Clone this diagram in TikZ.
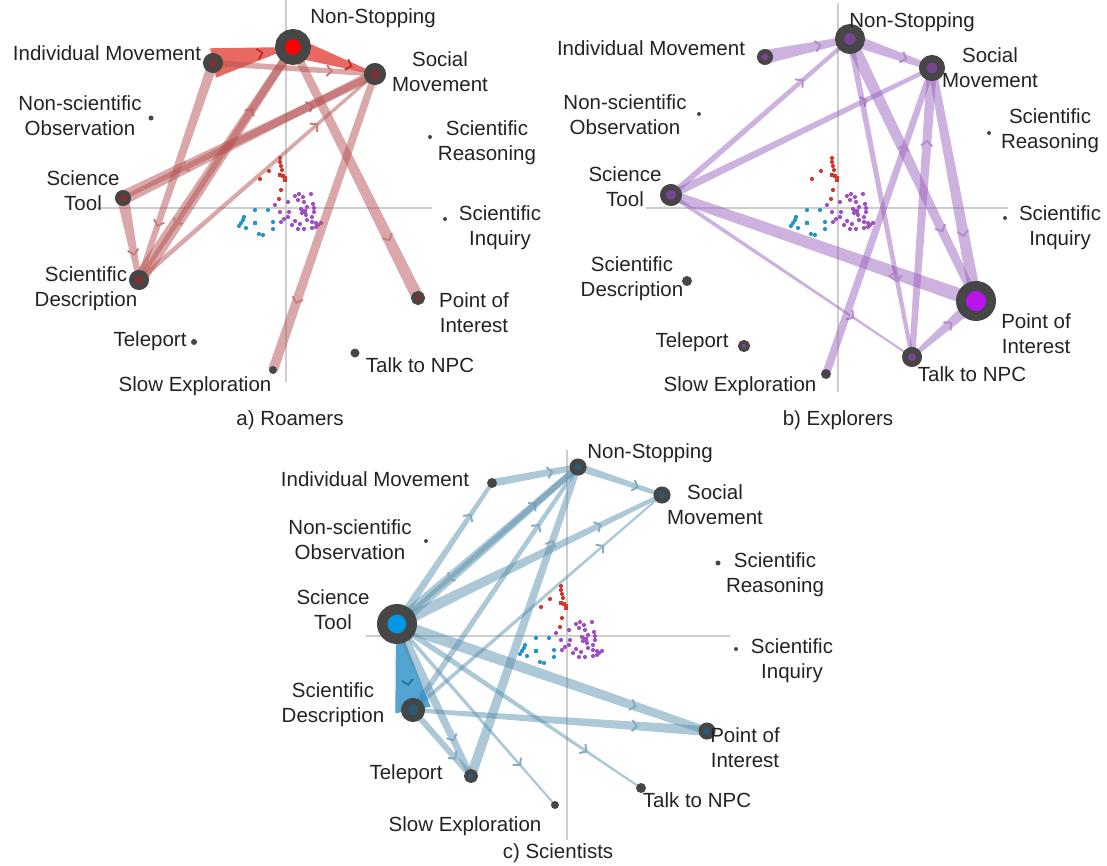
\documentclass[tikz,border=0pt]{standalone}
\usepackage{fontspec}
\setmainfont{Liberation Sans}
\usetikzlibrary{calc, arrows.meta, decorations.markings}
\definecolor{ringgray}{RGB}{70, 70, 70}
\definecolor{axisgray}{RGB}{205, 205, 205}
\definecolor{txt}{RGB}{35, 35, 35}
\definecolor{bandA}{RGB}{182, 82, 82}
\definecolor{bandB}{RGB}{155, 100, 191}
\definecolor{bandC}{RGB}{91, 145, 173}
\definecolor{hotA}{RGB}{225, 55, 45}
\definecolor{hotC}{RGB}{40, 140, 200}
\definecolor{innerA}{RGB}{125, 50, 50}
\definecolor{innerB}{RGB}{120, 70, 145}
\definecolor{innerC}{RGB}{45, 90, 115}
\definecolor{stopred}{RGB}{255, 0, 0}
\definecolor{poimag}{RGB}{185, 20, 240}
\definecolor{toolblue}{RGB}{0, 150, 225}
\definecolor{dotred}{RGB}{210, 55, 45}
\definecolor{dotblue}{RGB}{35, 150, 200}
\definecolor{dotpurple}{RGB}{160, 80, 195}
\pgfdeclarelayer{axes}
\pgfdeclarelayer{edges}
\pgfsetlayers{axes,edges,main}
\def\chevcol{black}
\tikzset{
  ring/.style n args={3}{circle, inner sep=0pt, draw=ringgray, fill=#3,
    line width={(#1-#2)/2}, minimum size={(#1+#2)/2}},
  dot/.style={circle, inner sep=0pt, fill=ringgray, minimum size=#1},
  lab/.style={align=center, text=txt, inner sep=0pt,
    font=\fontsize{20.5}{25}\selectfont},
  edgeA/.style={fill=bandA, fill opacity=0.5, /utils/exec=\def\chevcol{bandA!75!white}},
  edgeB/.style={fill=bandB, fill opacity=0.5, /utils/exec=\def\chevcol{bandB!75!white}},
  edgeC/.style={fill=bandC, fill opacity=0.5, /utils/exec=\def\chevcol{bandC!75!white}},
  wedgeA/.style={fill=hotA, fill opacity=0.75, /utils/exec=\def\chevcol{hotA!85!black}},
  wedgeC/.style={fill=hotC, fill opacity=0.8, /utils/exec=\def\chevcol{hotC!85!black}},
  axis/.style={draw=axisgray, line width=1.3pt}
}
% tapered band from node #2 (half width #4) to node #3 (half width #5)
\newcommand{\band}[5][edgeA]{
  \begin{pgfonlayer}{edges}
  \fill[#1] ($(#2)!#4!90:(#3)$) -- ($(#3)!#5!-90:(#2)$)
    -- ($(#3)!#5!90:(#2)$) -- ($(#2)!#4!-90:(#3)$) -- cycle;
  \path[#1, decorate, decoration={markings,
      mark=at position 0.78 with {\arrow[color=\chevcol]
        {Straight Barb[length=5pt, width=11pt, line width=2pt]}}}]
    (#2) -- (#3);
  \end{pgfonlayer}
}
% axes cross and the cloud of points round it
\newcommand{\cluster}[6]{
  \begin{pgfonlayer}{axes}
  \draw[axis] (#1, #3) -- (#1, #4);
  \draw[axis] (#5, #2) -- (#6, #2);
  \begin{scope}[shift={(#1, #2)}]
    \foreach \u/\v in {-6/-50, -6/-46, -5/-42, -4/-38, -17/-37, -26/-29, -5/-18, -7/-9}
      \fill[dotred] (\u, \v) circle (2.1);
    \foreach \u/\v in {-6/-33, -3/-32, -1/-30, -1/-28}
      \fill[dotred] (\u - 2.3, \v - 2.3) rectangle +(4.6, 4.6);
    \foreach \u/\v in {-31/2, -18/2, -42/9, -43/12, -45/15, -47/18, -40/20, -13/14,
                       -13/21, -27/26, -23/27}
      \fill[dotblue] (\u, \v) circle (2.1);
    \fill[dotblue] (-33.3, 12.7) rectangle +(4.6, 4.6);
    \foreach \u/\v in {-11/-3, -6/4, -2/11, 3/4, 2/-6, 9/-12, 13/-14, 17/-11, 25/-14,
                       12/-8, 18/-6, 27/-4, 15/1, 21/-1, 16/5, 20/7, 26/9, 28/4, 9/13,
                       14/16, 21/12, 26/14, 30/15, 32/17, 35/15, 12/21, 18/21, 26/20,
                       30/19, 6/17, 28/0, -5/14, 2/9}
      \fill[dotpurple] (\u, \v) circle (2.1);
    \fill[dotpurple] (15.7, 0.7) rectangle +(5, 5);
  \end{scope}
  \end{pgfonlayer}
}

\begin{document}
\begin{tikzpicture}[x=1pt, y=-1pt]
  \useasboundingbox (0, 0) rectangle (1107, 866);

  % a) Roamers
  \cluster{286}{208}{0}{382}{97}{432}
  \node[ring={36}{16}{stopred}] (a-ns) at (293, 47) {};
  \node[ring={20}{9}{innerA}] (a-im) at (213, 63) {};
  \node[ring={22}{10}{innerA}] (a-sm) at (375, 74) {};
  \node[dot=5] (a-nso) at (151, 118) {};
  \node[dot=4] (a-sr) at (430, 137) {};
  \node[ring={16}{8}{innerA}] (a-st) at (123, 198) {};
  \node[dot=4] (a-si) at (445, 219) {};
  \node[ring={20}{9}{innerA}] (a-sd) at (139, 280) {};
  \node[ring={14}{6}{innerA}] (a-poi) at (418, 298) {};
  \node[dot=6] (a-tp) at (194, 342) {};
  \node[dot=9] (a-tnpc) at (355, 353) {};
  \node[dot=8] (a-se) at (273, 370) {};

  \band[wedgeA]{a-im}{a-ns}{15pt}{0pt}
  \band[wedgeA]{a-ns}{a-sm}{10pt}{1pt}
  \band{a-im}{a-sm}{3pt}{2.5pt}
  \band{a-im}{a-sd}{5pt}{2.5pt}
  \band{a-st}{a-sm}{7pt}{3pt}
  \band{a-sm}{a-st}{5pt}{2pt}
  \band{a-st}{a-sd}{6pt}{2.5pt}
  \band{a-sd}{a-ns}{7pt}{4pt}
  \band{a-ns}{a-sd}{4pt}{2pt}
  \band{a-sd}{a-sm}{2.5pt}{1.5pt}
  \band{a-ns}{a-poi}{4pt}{6pt}
  \band{a-sm}{a-se}{3.5pt}{5pt}

  \node[lab] (a-ns-l) at (373, 18) {Non-Stopping};
  \node[lab] (a-im-l) at (107, 53) {Individual Movement};
  \node[lab] (a-sm-l) at (440, 72) {Social\\Movement};
  \node[lab] (a-nso-l) at (80, 116) {Non-scientific\\Observation};
  \node[lab] (a-sr-l) at (487, 143) {Scientific\\Reasoning};
  \node[lab] (a-st-l) at (83, 191) {Science\\Tool};
  \node[lab] (a-si-l) at (500, 228) {Scientific\\Inquiry};
  \node[lab] (a-sd-l) at (86, 289) {Scientific\\Description};
  \node[lab] (a-poi-l) at (474, 313) {Point of\\Interest};
  \node[lab] (a-tp-l) at (150, 341) {Teleport};
  \node[lab] (a-tnpc-l) at (420, 365) {Talk to NPC};
  \node[lab] (a-se-l) at (195, 386) {Slow Exploration};
  \node[lab] (a-cap) at (290, 420) {a) Roamers};

  % b) Explorers
  \cluster{838}{208}{3}{392}{646}{1008}
  \node[ring={30}{12}{innerB}] (b-ns) at (850, 39) {};
  \node[ring={16}{7}{innerB}] (b-im) at (765, 57) {};
  \node[ring={26}{11}{innerB}] (b-sm) at (932, 68) {};
  \node[dot=4] (b-nso) at (699, 114) {};
  \node[dot=4] (b-sr) at (989, 133) {};
  \node[ring={22}{10}{innerB}] (b-st) at (671, 195) {};
  \node[dot=4] (b-si) at (1005, 218) {};
  \node[dot=10] (b-sd) at (687, 281) {};
  \node[ring={40}{20}{poimag}] (b-poi) at (976, 301) {};
  \node[ring={12}{5}{innerB}] (b-tp) at (744, 346) {};
  \node[ring={20}{8}{innerB}] (b-tnpc) at (912, 357) {};
  \node[dot=10] (b-se) at (826, 374) {};

  \band[edgeB]{b-im}{b-ns}{7pt}{3pt}
  \band[edgeB]{b-ns}{b-sm}{6pt}{3pt}
  \band[edgeB]{b-st}{b-ns}{3pt}{2pt}
  \band[edgeB]{b-st}{b-sm}{4pt}{2pt}
  \band[edgeB]{b-st}{b-poi}{5pt}{7pt}
  \band[edgeB]{b-st}{b-tnpc}{2pt}{1pt}
  \band[edgeB]{b-ns}{b-poi}{6pt}{4pt}
  \band[edgeB]{b-ns}{b-tnpc}{3pt}{2pt}
  \band[edgeB]{b-sm}{b-poi}{4pt}{6pt}
  \band[edgeB]{b-tnpc}{b-sm}{3pt}{5pt}
  \band[edgeB]{b-tnpc}{b-poi}{2pt}{6pt}
  \band[edgeB]{b-se}{b-sm}{4pt}{3pt}

  \node[lab] (b-ns-l) at (912, 22) {Non-Stopping};
  \node[lab] (b-im-l) at (651, 48) {Individual Movement};
  \node[lab] (b-sm-l) at (990, 68) {Social\\Movement};
  \node[lab] (b-nso-l) at (625, 115) {Non-scientific\\Observation};
  \node[lab] (b-sr-l) at (1050, 131) {Scientific\\Reasoning};
  \node[lab] (b-st-l) at (625, 187) {Science\\Tool};
  \node[lab] (b-si-l) at (1060, 228) {Scientific\\Inquiry};
  \node[lab] (b-sd-l) at (632, 279) {Scientific\\Description};
  \node[lab] (b-poi-l) at (1036, 334) {Point of\\Interest};
  \node[lab] (b-tp-l) at (692, 342) {Teleport};
  \node[lab] (b-tnpc-l) at (972, 374) {Talk to NPC};
  \node[lab] (b-se-l) at (740, 386) {Slow Exploration};
  \node[lab] (b-cap) at (838, 420) {b) Explorers};

  % c) Scientists
  \cluster{567}{636}{450}{840}{366}{730}
  \node[ring={17}{7}{innerC}] (c-ns) at (578, 467) {};
  \node[dot=10] (c-im) at (492, 483) {};
  \node[ring={17}{7}{innerC}] (c-sm) at (662, 495) {};
  \node[dot=4] (c-nso) at (426, 541) {};
  \node[dot=5] (c-sr) at (718, 563) {};
  \node[ring={40}{19}{toolblue}] (c-st) at (397, 624) {};
  \node[dot=4] (c-si) at (736, 649) {};
  \node[ring={24}{11}{innerC}] (c-sd) at (413, 710) {};
  \node[ring={17}{7}{innerC}] (c-poi) at (707, 731) {};
  \node[ring={14}{6}{innerC}] (c-tp) at (471, 776) {};
  \node[dot=10] (c-tnpc) at (641, 788) {};
  \node[dot=8] (c-se) at (555, 805) {};

  \band[edgeC]{c-im}{c-ns}{4pt}{3pt}
  \band[edgeC]{c-ns}{c-sm}{4pt}{2pt}
  \band[edgeC]{c-st}{c-im}{4pt}{2pt}
  \band[edgeC]{c-st}{c-ns}{6pt}{3pt}
  \band[edgeC]{c-ns}{c-st}{3pt}{2pt}
  \band[edgeC]{c-st}{c-sm}{6pt}{2pt}
  \band[edgeC]{c-sd}{c-ns}{3pt}{2pt}
  \band[edgeC]{c-sd}{c-sm}{2pt}{1pt}
  \band[wedgeC]{c-st}{c-sd}{1pt}{18pt}
  \band[edgeC]{c-st}{c-tp}{5pt}{3pt}
  \band[edgeC]{c-sd}{c-tp}{3pt}{3pt}
  \band[edgeC]{c-tp}{c-ns}{5pt}{3pt}
  \band[edgeC]{c-st}{c-se}{2pt}{1pt}
  \band[edgeC]{c-st}{c-tnpc}{3pt}{1pt}
  \band[edgeC]{c-st}{c-poi}{6pt}{4pt}
  \band[edgeC]{c-sd}{c-poi}{2pt}{5pt}

  \node[lab] (c-ns-l) at (650, 453) {Non-Stopping};
  \node[lab] (c-im-l) at (375, 479) {Individual Movement};
  \node[lab] (c-sm-l) at (715, 505) {Social\\Movement};
  \node[lab] (c-nso-l) at (350, 540) {Non-scientific\\Observation};
  \node[lab] (c-sr-l) at (775, 575) {Scientific\\Reasoning};
  \node[lab] (c-st-l) at (333, 610) {Science\\Tool};
  \node[lab] (c-si-l) at (792, 661) {Scientific\\Inquiry};
  \node[lab] (c-sd-l) at (333, 705) {Scientific\\Description};
  \node[lab] (c-poi-l) at (745, 748) {Point of\\Interest};
  \node[lab] (c-tp-l) at (406, 774) {Teleport};
  \node[lab] (c-tnpc-l) at (697, 800) {Talk to NPC};
  \node[lab] (c-se-l) at (465, 826) {Slow Exploration};
  \node[lab] (c-cap) at (558, 853) {c) Scientists};
\end{tikzpicture}
\end{document}
